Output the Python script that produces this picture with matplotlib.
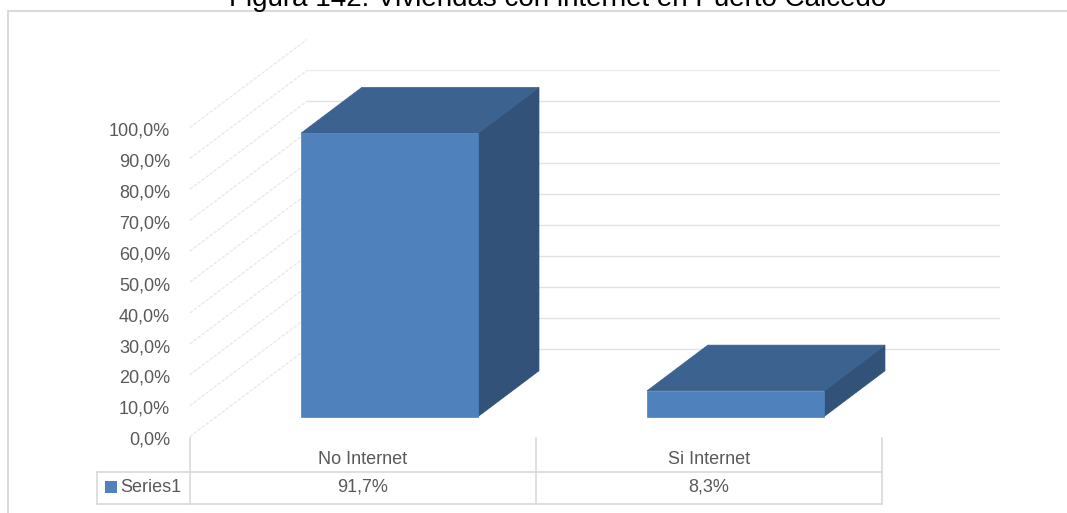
import matplotlib
matplotlib.use("Agg")
import matplotlib.pyplot as plt
from matplotlib.patches import Polygon, Rectangle
from matplotlib.lines import Line2D

# ---------------- data ----------------
title = "Figura 142: Viviendas con internet en Puerto Calcedo"
categories = ["No Internet", "Si Internet"]
values = [91.7, 8.3]
series_name = "Series1"
yticks = [0, 10, 20, 30, 40, 50, 60, 70, 80, 90, 100]

# ---------------- style ----------------
FRONT = "#4F81BD"
TOP = "#3C628F"
SIDE = "#32527A"
GRID = "#D9D9D9"
WALL_GRID = "#E2E2E2"
DIAG = "#E4E4E4"
TXT = "#595959"
FONT = "Liberation Sans"

W, H = 1067, 513
fig = plt.figure(figsize=(W / 100, H / 100), dpi=100)

# axes covering whole figure; x = category units, y = percent
PX_PER_CAT = 346.0
PX_PER_PCT = 3.09
X0_PX, Y0_PX = 190.0, 436.5          # front-left floor corner in pixels
ax = fig.add_axes([0, 0, 1, 1])
ax.set_xlim(-X0_PX / PX_PER_CAT, (W - X0_PX) / PX_PER_CAT)
ax.set_ylim((Y0_PX - H) / PX_PER_PCT, Y0_PX / PX_PER_PCT)
ax.axis("off")

# oblique depth projection
DX = 117.0 / PX_PER_CAT
DY = 88.0 / PX_PER_PCT


def P(x, v, z):
    return (x + z * DX, v + z * DY)


ncat = len(categories)

# side wall diagonals
for v in yticks:
    a, b = P(0, v, 0), P(0, v, 1)
    ax.add_line(Line2D([a[0], b[0]], [a[1], b[1]], color=DIAG, lw=0.8,
                       ls=(0, (3, 1.5)), zorder=1))
# back wall gridlines
for v in yticks[:-1]:
    a, b = P(0, v, 1), P(ncat, v, 1)
    col = "#EEEEEE" if v == yticks[-2] else WALL_GRID
    ax.add_line(Line2D([a[0], b[0]], [a[1], b[1]], color=col, lw=1.0, zorder=1))

# bars
z0, z1 = 0.227, 0.747
hw = 0.256
for i, v in enumerate(values):
    c = i + 0.5
    side = [P(c + hw, 0, z0), P(c + hw, 0, z1), P(c + hw, v, z1), P(c + hw, v, z0)]
    top = [P(c - hw, v, z0), P(c + hw, v, z0), P(c + hw, v, z1), P(c - hw, v, z1)]
    front = [P(c - hw, 0, z0), P(c + hw, 0, z0), P(c + hw, v, z0), P(c - hw, v, z0)]
    ax.add_patch(Polygon(side, closed=True, facecolor=SIDE, edgecolor=SIDE, lw=0.5, zorder=3))
    ax.add_patch(Polygon(top, closed=True, facecolor=TOP, edgecolor=TOP, lw=0.5, zorder=3))
    ax.add_patch(Polygon(front, closed=True, facecolor=FRONT, edgecolor=FRONT, lw=0.5, zorder=4))

# y tick labels
lab_x = (170 - X0_PX) / PX_PER_CAT
for v in yticks:
    ax.text(lab_x, v - 1.2, f"{v:.1f}%".replace(".", ","), ha="right", va="center",
            fontsize=13, color=TXT, family=FONT)


# ---------------- data table ----------------
def ypx(p):
    return (Y0_PX - p) / PX_PER_PCT


def xpx(p):
    return (p - X0_PX) / PX_PER_CAT


t_top, t_mid, t_bot = ypx(438), ypx(472), ypx(504)
t_left = xpx(97)
for i in range(ncat + 1):
    ax.add_line(Line2D([i, i], [t_top, t_bot], color=GRID, lw=1.2, zorder=2))
ax.add_line(Line2D([t_left, ncat], [t_mid, t_mid], color=GRID, lw=1.2, zorder=2))
ax.add_line(Line2D([t_left, ncat], [t_bot, t_bot], color=GRID, lw=1.2, zorder=2))
ax.add_line(Line2D([t_left, t_left], [t_mid, t_bot], color=GRID, lw=1.2, zorder=2))

row1_y = ypx(459)
row2_y = ypx(487)
for i, (cat, v) in enumerate(zip(categories, values)):
    ax.text(i + 0.5, row1_y, cat, ha="center", va="center", fontsize=13,
            color=TXT, family=FONT)
    ax.text(i + 0.5, row2_y, f"{v:.1f}%".replace(".", ","), ha="center", va="center",
            fontsize=13, color=TXT, family=FONT)

# legend key
sq = 11.7
ax.add_patch(Rectangle((xpx(105), ypx(493)), sq / PX_PER_CAT, sq / PX_PER_PCT,
                       facecolor=FRONT, edgecolor="none", zorder=3))
ax.text(xpx(120), row2_y, series_name, ha="left", va="center", fontsize=13,
        color=TXT, family=FONT)

# ---------------- frame & title ----------------
fig.add_artist(Line2D([8 / W, 8 / W], [0, 1 - 11 / H], color=GRID, lw=1.4,
                      transform=fig.transFigure))
fig.add_artist(Line2D([8 / W, 1], [1 - 11 / H, 1 - 11 / H], color=GRID, lw=1.4,
                      transform=fig.transFigure))
fig.text(558 / W, 1 - 6.5 / H, title, ha="center", va="baseline", fontsize=20,
         color="black", family=FONT)

fig.savefig("out.png", dpi=100)
